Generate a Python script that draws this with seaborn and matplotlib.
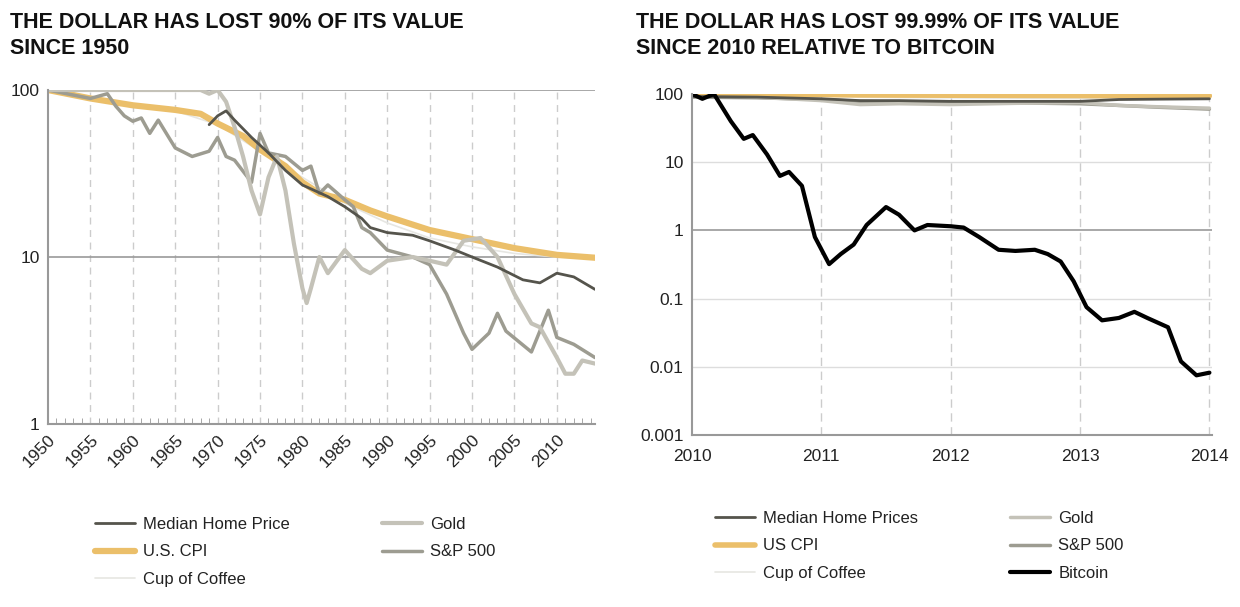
import numpy as np
import pandas as pd
import matplotlib
matplotlib.use("Agg")
import matplotlib.pyplot as plt
import seaborn as sns
from matplotlib.ticker import FixedLocator, FixedFormatter, MultipleLocator

# Venstre: dollarens verdi siden 1950 (indeks, 1950 = 100)
cpi_years = [1950, 1955, 1960, 1965, 1968, 1970, 1973, 1975, 1978, 1980, 1982, 1985, 1988, 1990, 1995, 2000, 2005, 2010, 2014.5]
cpi_vals = [100, 89, 81, 76, 72, 63, 53, 44, 35, 28, 24, 22, 19, 17.5, 14.5, 12.8, 11.3, 10.3, 9.9]

home_years = [1969, 1970, 1971, 1972, 1974, 1976, 1978, 1980, 1983, 1985, 1987, 1988, 1990, 1993, 1995, 1998, 2000, 2003, 2006, 2008, 2010, 2012, 2014.5]
home_vals = [62, 70, 75, 66, 52, 42, 33, 27, 23, 20, 17, 15, 14, 13.5, 12.5, 11, 10, 8.7, 7.3, 7.0, 8.0, 7.6, 6.4]

gold_years = [1950, 1968, 1969, 1970, 1971, 1972, 1973, 1974, 1975, 1976, 1977, 1978, 1979, 1980, 1980.5, 1981, 1982, 1983, 1985, 1987, 1988, 1990, 1993, 1995, 1997, 1999, 2001, 2003, 2005, 2007, 2008, 2010, 2011, 2012, 2013, 2014.5]
gold_vals = [100, 100, 95, 100, 85, 60, 40, 25, 18, 30, 40, 25, 12, 6.5, 5.3, 6.5, 10, 8, 11, 8.5, 8, 9.5, 10, 9.5, 9, 12.5, 13, 10, 6, 4, 3.8, 2.5, 2.0, 2.0, 2.4, 2.3]

sp_years = [1950, 1955, 1957, 1958, 1959, 1960, 1961, 1962, 1963, 1965, 1967, 1969, 1970, 1971, 1972, 1974, 1975, 1976, 1978, 1980, 1981, 1982, 1983, 1985, 1986, 1987, 1988, 1990, 1993, 1995, 1997, 1999, 2000, 2002, 2003, 2004, 2007, 2009, 2010, 2012, 2014.5]
sp_vals = [100, 89, 95, 80, 70, 65, 68, 55, 66, 45, 40, 43, 52, 40, 38, 28, 55, 42, 40, 33, 35, 24, 27, 22, 20, 15, 14, 11, 10, 9, 6, 3.5, 2.8, 3.5, 4.6, 3.6, 2.7, 4.8, 3.3, 3.0, 2.5]

coffee_years = [1950, 1960, 1965, 1970, 1975, 1980, 1985, 1990, 1995, 2000, 2005, 2010, 2014.5]
coffee_vals = [100, 82, 75, 62, 43, 30, 21, 16, 13, 11.5, 10.5, 10, 9.8]

# Høyre: siden 2010, relativt til bitcoin
btc_t = [2010.0, 2010.08, 2010.17, 2010.3, 2010.4, 2010.47, 2010.58, 2010.68, 2010.75, 2010.85, 2010.95, 2011.06, 2011.15, 2011.25, 2011.35, 2011.5, 2011.6, 2011.72, 2011.82, 2012.0, 2012.1, 2012.22, 2012.37, 2012.5, 2012.65, 2012.75, 2012.85, 2012.95, 2013.05, 2013.17, 2013.3, 2013.42, 2013.52, 2013.68, 2013.78, 2013.9, 2014.0]
btc_vals = [100, 85, 100, 40, 22, 25, 13, 6.3, 7.2, 4.5, 0.8, 0.32, 0.45, 0.62, 1.2, 2.2, 1.7, 1.0, 1.2, 1.15, 1.1, 0.8, 0.52, 0.5, 0.52, 0.45, 0.35, 0.18, 0.075, 0.048, 0.052, 0.064, 0.052, 0.038, 0.012, 0.0075, 0.0082]
r_t = [2010.0, 2010.5, 2011.0, 2011.3, 2011.6, 2012.0, 2012.5, 2013.0, 2013.3, 2013.6, 2014.0]
r_cpi = [100, 99, 98, 97, 96.5, 96, 95.5, 95, 94.5, 94, 94]
r_home = [92, 90, 85, 80, 80, 78, 78, 78, 83, 84, 85]
r_gold = [100, 90, 80, 70, 72, 70, 73, 75, 68, 65, 62]
r_sp = [90, 88, 83, 78, 76, 75, 74, 72, 68, 64, 60]
r_coffee = [100, 97, 94, 90, 89, 88, 87, 86, 86, 85, 86]

c_home = "#55544c"
c_gold = "#c4c2b8"
c_cpi = "#ebbf6a"
c_sp = "#9d9c91"
c_coffee = "#e6e6e2"

sns.set_style("white")
plt.rcParams["font.family"] = ["Liberation Sans", "DejaVu Sans"]

fig = plt.figure(figsize=(12.4, 6.07), dpi=100)
ax1 = fig.add_axes([48 / 1240, 1 - 424 / 607, 547 / 1240, 334 / 607])
ax2 = fig.add_axes([692 / 1240, 1 - 435 / 607, 520 / 1240, 341 / 607])


def draw(ax, x, y, color, lw, label):
    sns.lineplot(x=x, y=y, ax=ax, color=color, linewidth=lw, label=label, legend=False)


draw(ax1, coffee_years, coffee_vals, c_coffee, 1.2, "Cup of Coffee")
draw(ax1, cpi_years, cpi_vals, c_cpi, 4.5, "U.S. CPI")
draw(ax1, sp_years, sp_vals, c_sp, 2.5, "S&P 500")
draw(ax1, gold_years, gold_vals, c_gold, 3, "Gold")
draw(ax1, home_years, home_vals, c_home, 2, "Median Home Price")

draw(ax2, r_t, r_coffee, c_coffee, 1.2, "Cup of Coffee")
draw(ax2, r_t, r_sp, c_sp, 2.5, "S&P 500")
draw(ax2, r_t, r_gold, c_gold, 2.5, "Gold")
draw(ax2, r_t, r_cpi, c_cpi, 4, "US CPI")
draw(ax2, r_t, r_home, c_home, 2, "Median Home Prices")
draw(ax2, btc_t, btc_vals, "black", 3, "Bitcoin")

for ax in (ax1, ax2):
    ax.set_yscale("log")
    for s in ("top", "right"):
        ax.spines[s].set_visible(False)
    for s in ("left", "bottom"):
        ax.spines[s].set_color("#999999")
        ax.spines[s].set_linewidth(1.5)
    ax.tick_params(labelsize=12.5, colors="#222222", length=0, pad=6)
    ax.set_xlabel("")
    ax.set_ylabel("")

ax1.set_xlim(1950, 2014.5)
ax1.set_ylim(1, 100)
ax1.yaxis.set_major_locator(FixedLocator([1, 10, 100]))
ax1.yaxis.set_major_formatter(FixedFormatter(["1", "10", "100"]))
ax1.yaxis.set_minor_locator(FixedLocator([]))
years = list(range(1950, 2015, 5))
ax1.set_xticks(years)
ax1.set_xticklabels([str(y) for y in years], rotation=45, ha="right", rotation_mode="anchor")
ax1.xaxis.set_minor_locator(MultipleLocator(1))
ax1.tick_params(axis="x", which="minor", length=4, direction="in", color="#999999", bottom=True)
for y in years[1:]:
    ax1.axvline(y, color="#cccccc", linestyle=(0, (5, 4)), linewidth=1, zorder=0)
ax1.axhline(10, color="#999999", linewidth=1.2, zorder=0)
ax1.axhline(100, color="#999999", linewidth=1.2, zorder=0)

ax2.set_xlim(2010, 2014.02)
ax2.set_ylim(0.001, 100)
yt = [0.001, 0.01, 0.1, 1, 10, 100]
ax2.yaxis.set_major_locator(FixedLocator(yt))
ax2.yaxis.set_major_formatter(FixedFormatter(["0.001", "0.01", "0.1", "1", "10", "100"]))
ax2.yaxis.set_minor_locator(FixedLocator([]))
ax2.set_xticks([2010, 2011, 2012, 2013, 2014])
ax2.set_xticklabels(["2010", "2011", "2012", "2013", "2014"])
ax2.tick_params(axis="x", pad=10)
for y in [2011, 2012, 2013, 2014]:
    ax2.axvline(y, color="#cccccc", linestyle=(0, (6, 4)), linewidth=1, zorder=0)
for v in [0.01, 0.1, 10]:
    ax2.axhline(v, color="#dddddd", linewidth=1, zorder=0)
ax2.axhline(1, color="#999999", linewidth=1.2, zorder=0)

fig.text(10 / 1240, 1 - 12 / 607, "THE DOLLAR HAS LOST 90% OF ITS VALUE\nSINCE 1950",
         fontsize=15.5, fontweight="bold", va="top", ha="left", linespacing=1.3, color="#111111")
fig.text(636 / 1240, 1 - 12 / 607, "THE DOLLAR HAS LOST 99.99% OF ITS VALUE\nSINCE 2010 RELATIVE TO BITCOIN",
         fontsize=15.5, fontweight="bold", va="top", ha="left", linespacing=1.3, color="#111111")


def legend(ax, order, anchor):
    h, l = ax.get_legend_handles_labels()
    d = dict(zip(l, h))
    leg = ax.legend([d[k] for k in order], order, loc="upper left", bbox_to_anchor=anchor,
                    bbox_transform=fig.transFigure, ncol=2, frameon=False, fontsize=12,
                    handlelength=2.4, handletextpad=0.5, columnspacing=5.5, labelspacing=0.75)
    for t in leg.get_texts():
        t.set_color("#222222")


legend(ax1, ["Median Home Price", "U.S. CPI", "Cup of Coffee", "Gold", "S&P 500"],
       (80 / 1240, 1 - 502 / 607))
legend(ax2, ["Median Home Prices", "US CPI", "Cup of Coffee", "Gold", "S&P 500", "Bitcoin"],
       (700 / 1240, 1 - 496 / 607))

fig.savefig("out.png", dpi=100)
